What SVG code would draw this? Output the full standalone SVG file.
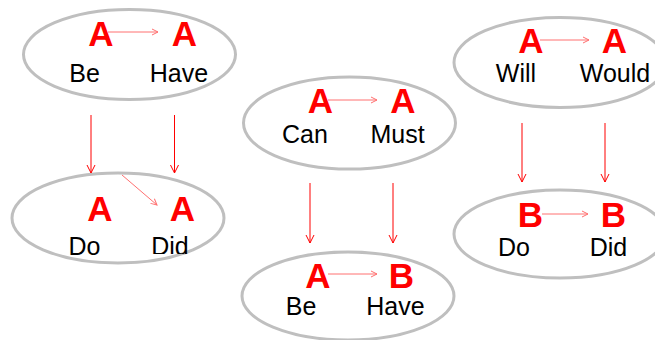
<svg xmlns="http://www.w3.org/2000/svg" width="655" height="340" viewBox="0 0 655 340">
<style>
.ell{fill:none;stroke:#BFBFBF;stroke-width:3}
.big{font-family:"Liberation Sans",Arial,sans-serif;font-weight:bold;font-size:35px;fill:#FF0000;text-anchor:middle}
.word{font-family:"Liberation Sans",Arial,sans-serif;font-size:25px;fill:#000000;text-anchor:middle}
.thin{stroke:#FF7070;stroke-width:1;fill:none;marker-end:url(#hs)}
.down{stroke:#FF0000;stroke-width:1;fill:none;marker-end:url(#hd)}
</style>
<defs>
<marker id="hs" markerUnits="userSpaceOnUse" markerWidth="8" markerHeight="8" refX="6" refY="3" orient="auto" overflow="visible">
<path d="M0,0 L6,3 L0,6" fill="none" stroke="#FF7070" stroke-width="1"/>
</marker>
<marker id="hd" markerUnits="userSpaceOnUse" markerWidth="10" markerHeight="10" refX="8" refY="4" orient="auto" overflow="visible">
<path d="M0,0 L8,4 L0,8" fill="none" stroke="#FF0000" stroke-width="1"/>
</marker>
<clipPath id="cut"><rect x="0" y="0" width="655" height="254"/></clipPath>
</defs>
<rect width="655" height="340" fill="#FFFFFF"/>
<g id="node-be-have">
<ellipse class="ell" cx="129.5" cy="54.5" rx="106" ry="45"/>
<text class="big" x="101" y="46">A</text>
<text class="big" x="184.5" y="46">A</text>
<text class="word" x="84.5" y="82">Be</text>
<text class="word" x="179" y="82">Have</text>
</g>
<g id="node-do-did-left">
<ellipse class="ell" cx="118" cy="218" rx="106" ry="45"/>
<text class="big" x="100" y="221">A</text>
<text class="big" x="182.5" y="221">A</text>
<text class="word" x="84.5" y="255">Do</text>
<text class="word" x="170" y="255" clip-path="url(#cut)">Did</text>
</g>
<g id="node-can-must">
<ellipse class="ell" cx="349.5" cy="123" rx="106" ry="46"/>
<text class="big" x="320.5" y="113">A</text>
<text class="big" x="403" y="113">A</text>
<text class="word" x="305" y="143">Can</text>
<text class="word" x="397.5" y="143">Must</text>
</g>
<g id="node-be-have-b">
<ellipse class="ell" cx="348" cy="296" rx="106" ry="44"/>
<text class="big" x="318" y="288">A</text>
<text class="big" x="401.5" y="288">B</text>
<text class="word" x="301" y="315">Be</text>
<text class="word" x="395.5" y="315">Have</text>
</g>
<g id="node-will-would">
<ellipse class="ell" cx="560" cy="62.5" rx="106" ry="45"/>
<text class="big" x="531" y="53">A</text>
<text class="big" x="614.5" y="53">A</text>
<text class="word" x="516" y="82">Will</text>
<text class="word" x="615" y="82">Would</text>
</g>
<g id="node-do-did-right">
<ellipse class="ell" cx="560" cy="234" rx="106" ry="44"/>
<text class="big" x="530.5" y="227">B</text>
<text class="big" x="613.5" y="227">B</text>
<text class="word" x="514" y="256">Do</text>
<text class="word" x="608.5" y="256">Did</text>
</g>
<g id="connectors">
<line class="thin" x1="108" y1="32" x2="158" y2="32"/>
<line class="thin" x1="328" y1="100" x2="377" y2="100"/>
<line class="thin" x1="328" y1="274" x2="377" y2="274"/>
<line class="thin" x1="540" y1="40" x2="589" y2="40"/>
<line class="thin" x1="542" y1="214" x2="588" y2="214"/>
<line class="thin" x1="122" y1="175" x2="157" y2="205"/>
<line class="down" x1="91" y1="115" x2="91" y2="173"/>
<line class="down" x1="174.5" y1="115" x2="174.5" y2="173"/>
<line class="down" x1="310" y1="183" x2="310" y2="243"/>
<line class="down" x1="393" y1="183" x2="393" y2="243"/>
<line class="down" x1="522" y1="123" x2="522" y2="182"/>
<line class="down" x1="605" y1="123" x2="605" y2="182"/>
</g>
</svg>
